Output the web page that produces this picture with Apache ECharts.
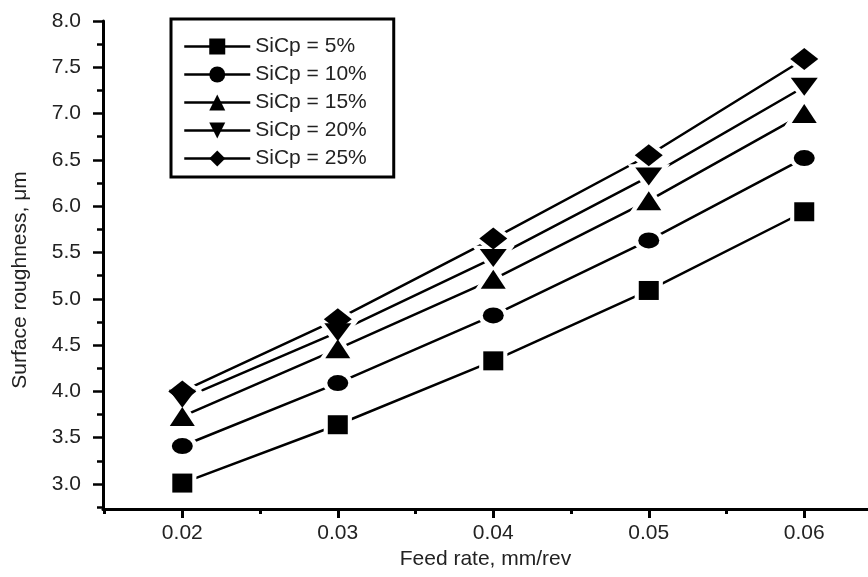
<!DOCTYPE html>
<html>
<head>
<meta charset="utf-8">
<script src="https://cdn.jsdelivr.net/npm/echarts@6/dist/echarts.min.js"></script>
<style>
  html, body { margin: 0; padding: 0; background: #fff; }
  #chart { width: 868px; height: 577px; }
</style>
</head>
<body>
<div id="chart"></div>
<script>
// feed rate (mm/rev) on x
var feedRate = [0.02, 0.03, 0.04, 0.05, 0.06];
// surface roughness (um) per SiCp content
var sic5 = [3.01, 3.64, 4.33, 5.09, 5.94];
var sic10 = [3.41, 4.09, 4.82, 5.63, 6.52];
var sic15 = [3.73, 4.46, 5.21, 6.06, 7.0];
var sic20 = [3.92, 4.64, 5.44, 6.32, 7.29];
var sic25 = [4.0, 4.78, 5.65, 6.55, 7.59];
var seriesNames = ["SiCp = 5%", "SiCp = 10%", "SiCp = 15%", "SiCp = 20%", "SiCp = 25%"];

var xTicks = [0.02, 0.03, 0.04, 0.05, 0.06];
var xMinorTicks = [0.015, 0.025, 0.035, 0.045, 0.055];
var yTicks = [3.0, 3.5, 4.0, 4.5, 5.0, 5.5, 6.0, 6.5, 7.0, 7.5, 8.0];
var yMinorTicks = [2.75, 3.25, 3.75, 4.25, 4.75, 5.25, 5.75, 6.25, 6.75, 7.25, 7.75];

var font = "'Liberation Sans', Arial, sans-serif";
var textColor = "#222";
var fontSize = 21;

var marks = [
  { values: sic5, symbol: "rect", size: [20, 19], rotate: 0 },
  { values: sic10, symbol: "circle", size: [21, 16], rotate: 0 },
  { values: sic15, symbol: "triangle", size: [25, 19], rotate: 0 },
  { values: sic20, symbol: "triangle", size: [27, 18], rotate: 180 },
  { values: sic25, symbol: "diamond", size: [28, 22], rotate: 0 },
];

function pairs(ys) {
  return feedRate.map(function (x, i) { return [x, ys[i]]; });
}

var series = [];
// lines, with a white halo round each marker so the line stops short of it
marks.forEach(function (m, i) {
  series.push({
    name: seriesNames[i],
    type: "line",
    data: pairs(m.values),
    symbol: m.symbol,
    symbolSize: m.size,
    symbolRotate: m.rotate,
    lineStyle: { color: "#000", width: 2.5 },
    itemStyle: { color: "#000", borderColor: "#fff", borderWidth: 8 },
    emphasis: { disabled: true },
    animation: false,
    z: 2,
  });
});
// solid markers on top
marks.forEach(function (m, i) {
  series.push({
    name: "m" + i,
    type: "line",
    data: pairs(m.values),
    symbol: m.symbol,
    symbolSize: m.size,
    symbolRotate: m.rotate,
    lineStyle: { opacity: 0 },
    itemStyle: { color: "#000", borderWidth: 0 },
    emphasis: { disabled: true },
    silent: true,
    animation: false,
    z: 3,
  });
});

var myChart = echarts.init(document.getElementById("chart"));

var option = {
  animation: false,
  grid: { left: 103, top: 21, right: 0, bottom: 68 },
  legend: {
    data: seriesNames,
    orient: "vertical",
    left: 171,
    top: 19,
    padding: [17, 27, 8, 12],
    itemWidth: 66,
    itemHeight: 20,
    itemGap: 7,
    borderColor: "#000",
    borderWidth: 3,
    lineStyle: { width: 2.5, color: "#000" },
    itemStyle: { borderWidth: 0 },
    textStyle: { fontFamily: font, fontSize: fontSize, color: textColor },
    selectedMode: false,
  },
  xAxis: [
    {
      type: "value",
      min: 0.0149,
      max: 0.0641,
      name: "Feed rate, mm/rev",
      nameLocation: "middle",
      nameGap: 40,
      nameTextStyle: { fontFamily: font, fontSize: fontSize, color: textColor },
      axisLine: { lineStyle: { color: "#000", width: 3 } },
      axisTick: { customValues: xTicks, length: 9, lineStyle: { color: "#000", width: 3 } },
      axisLabel: {
        customValues: xTicks,
        margin: 14,
        fontFamily: font,
        fontSize: fontSize,
        color: textColor,
        formatter: function (v) { return v.toFixed(2); },
      },
      splitLine: { show: false },
    },
    {
      type: "value",
      min: 0.0149,
      max: 0.0641,
      position: "bottom",
      axisLine: { show: false },
      axisTick: { customValues: xMinorTicks, length: 5, lineStyle: { color: "#000", width: 3 } },
      axisLabel: { show: false },
      splitLine: { show: false },
    },
  ],
  yAxis: [
    {
      type: "value",
      min: 2.73,
      max: 8.0,
      name: "Surface roughness, μm",
      nameLocation: "middle",
      nameGap: 72,
      nameTextStyle: { fontFamily: font, fontSize: fontSize, color: textColor, padding: [0, 30, 0, 0] },
      axisLine: { lineStyle: { color: "#000", width: 3 } },
      axisTick: { customValues: yTicks, length: 10, lineStyle: { color: "#000", width: 2.5 } },
      axisLabel: {
        customValues: yTicks,
        margin: 22,
        fontFamily: font,
        fontSize: fontSize,
        color: textColor,
        formatter: function (v) { return v.toFixed(1); },
      },
      splitLine: { show: false },
    },
    {
      type: "value",
      min: 2.73,
      max: 8.0,
      position: "left",
      axisLine: { show: false },
      axisTick: { customValues: yMinorTicks, length: 6, lineStyle: { color: "#000", width: 2.5 } },
      axisLabel: { show: false },
      splitLine: { show: false },
    },
  ],
  series: series,
};

myChart.setOption(option);
</script>
</body>
</html>
